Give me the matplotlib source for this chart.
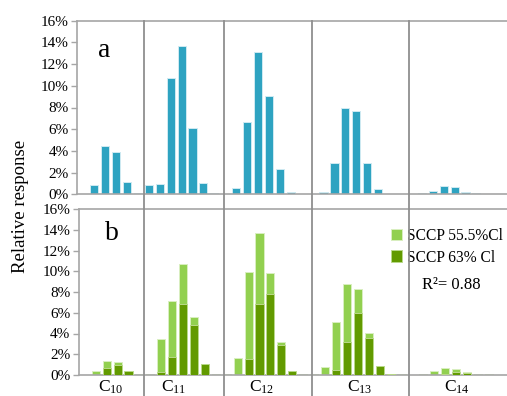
import matplotlib
matplotlib.use('Agg')
import matplotlib.pyplot as plt
import numpy as np
from matplotlib.lines import Line2D
from matplotlib.transforms import blended_transform_factory

plt.rcParams['font.family'] = ['Liberation Serif', 'DejaVu Serif']
plt.rcParams['mathtext.default'] = 'regular'

# ---------------- data ----------------
group_labels = ['C$_{10}$', 'C$_{11}$', 'C$_{12}$', 'C$_{13}$', 'C$_{14}$']
group_sizes = [6, 7, 8, 9, 9]          # chlorine slots per carbon group

# panel a (single series), % relative response
a_c10 = [0, 0.86, 4.45, 3.93, 1.10, 0.15]
a_c11 = [0.86, 0.95, 10.7, 13.7, 6.14, 1.0, 0.15]
a_c12 = [0, 0.55, 6.7, 13.1, 9.1, 2.33, 0.21, 0]
a_c13 = [0, 0.21, 2.86, 7.93, 7.65, 2.86, 0.46, 0, 0]
a_c14 = [0, 0.12, 0.30, 0.76, 0.70, 0.21, 0.10, 0, 0]

# panel b, SCCP 55.5%Cl (light) and SCCP 63% Cl (dark)
b55_c10 = [0.04, 0.42, 1.38, 1.22, 0.30, 0.05]
b55_c11 = [0.08, 3.47, 7.16, 10.7, 5.56, 0.90, 0.05]
b55_c12 = [0.05, 1.67, 9.9, 13.7, 9.83, 3.18, 0.30, 0.05]
b55_c13 = [0.05, 0.77, 5.1, 8.74, 8.29, 4.05, 0.80, 0.05, 0.05]
b55_c14 = [0, 0.05, 0.35, 0.67, 0.55, 0.30, 0.05, 0.05, 0]

b63_c10 = [0, 0, 0.64, 0.93, 0.39, 0]
b63_c11 = [0, 0.32, 1.7, 6.81, 4.79, 1.03, 0]
b63_c12 = [0, 0, 1.57, 6.81, 7.84, 2.86, 0.39, 0]
b63_c13 = [0, 0, 0.51, 3.21, 5.98, 3.60, 0.90, 0.10, 0]
b63_c14 = [0, 0, 0, 0.08, 0.26, 0.20, 0, 0, 0]

series_names = ['SCCP 55.5%Cl', 'SCCP 63% Cl']
r2_text = 'R²= 0.88'
yticks = [0, 2, 4, 6, 8, 10, 12, 14, 16]

# ---------------- layout ----------------
a_vals = np.array(a_c10 + a_c11 + a_c12 + a_c13 + a_c14)
b55 = np.array(b55_c10 + b55_c11 + b55_c12 + b55_c13 + b55_c14)
b63 = np.array(b63_c10 + b63_c11 + b63_c12 + b63_c13 + b63_c14)
x = np.arange(sum(group_sizes))

sep_pos = [5.56, 12.86, 20.9, 29.8]          # group separator lines (slot units)
label_pos = [2.4, 8.17, 16.2, 25.2, 34.1]    # carbon-group label positions

W, H = 507, 396
fig = plt.figure(figsize=(W / 100, H / 100), dpi=100)

def rect(l, r, t, b):
    return [l / W, 1 - b / H, (r - l) / W, (b - t) / H]

ax_a = fig.add_axes(rect(77.3, 507, 20.7, 194.3))
ax_b = fig.add_axes(rect(78.8, 508.5, 209, 375))

blue = '#2EA3C1'
light = '#92D050'
dark = '#629A00'
spine_c = '#a6a6a6'
bw = 0.74

ax_a.bar(x, a_vals, width=bw, color=blue, edgecolor='#cfeaf2', linewidth=0.7, zorder=2)
ax_b.bar(x, b55, width=bw, color=light, edgecolor='#d9efc0', linewidth=0.7,
         zorder=2, label=series_names[0])
ax_b.bar(x, b63, width=bw, color=dark, edgecolor='#b9d98a', linewidth=0.7,
         zorder=3, label=series_names[1])

xl = ((77.3 - 83.3) / 10.92, (507 - 83.3) / 10.92)
for ax in (ax_a, ax_b):
    ax.set_xlim(*xl)
    ax.set_ylim(0, 16)
    ax.set_yticks(yticks)
    ax.set_yticklabels([f'{v}%' for v in yticks], fontsize=11)
    ax.set_xticks([])
    ax.spines['right'].set_visible(False)
    for s in ('left', 'top', 'bottom'):
        ax.spines[s].set_color(spine_c)
        ax.spines[s].set_linewidth(1.2)
    ax.tick_params(axis='y', direction='out', length=4, width=1, color=spine_c, pad=2)

# group separators spanning both panels
tr = blended_transform_factory(ax_a.transData, fig.transFigure)
top_y = 1 - 20.7 / H
for s in sep_pos:
    fig.add_artist(Line2D([s, s], [top_y, 0], transform=tr, color='#8f8f8f',
                          linewidth=1.3, zorder=5))

# group labels
trb = blended_transform_factory(ax_b.transData, fig.transFigure)
for lab, p in zip(group_labels, label_pos):
    fig.text(p, 4.5 / H, lab, transform=trb, ha='center', va='baseline', fontsize=12.5)

# panel letters
ax_a.text(0.062, 0.831, 'a', transform=ax_a.transAxes, ha='center', va='center', fontsize=20)
ax_b.text(0.077, 0.855, 'b', transform=ax_b.transAxes, ha='center', va='center', fontsize=20)

# legend + R2
ax_b.legend(loc='upper left', bbox_to_anchor=(0.726, 0.885), frameon=False,
            fontsize=11.2, handlelength=0.75, handleheight=0.75, handletextpad=0.3,
            labelspacing=0.35, borderpad=0, borderaxespad=0)
ax_b.text(0.868, 0.542, r2_text, transform=ax_b.transAxes, ha='center', va='center',
          fontsize=12)

fig.text(21 / W, 1 - 206.5 / H, 'Relative response', rotation=90, ha='center',
         va='center', fontsize=13.5)

fig.savefig('out.png', dpi=100)
